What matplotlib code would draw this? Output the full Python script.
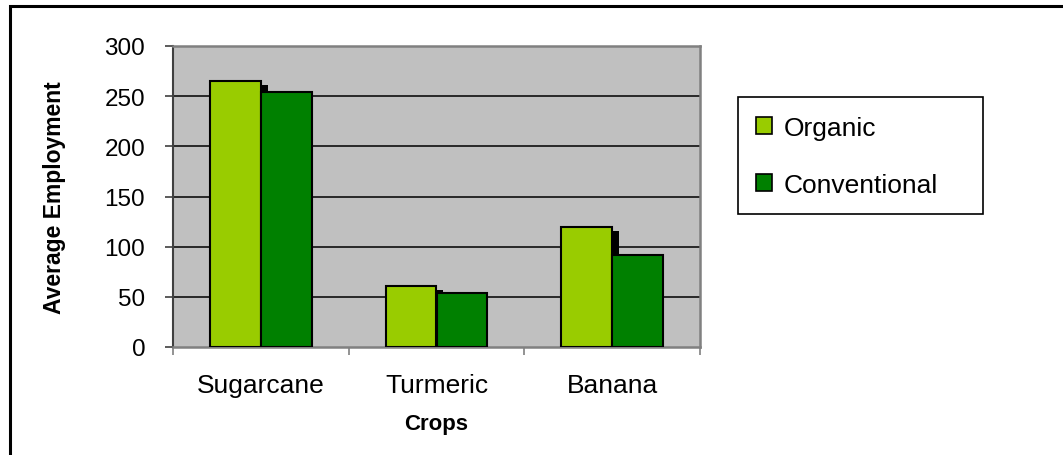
import matplotlib.pyplot as plt
import matplotlib.patheffects as pe
from matplotlib.patches import Rectangle, Patch
from matplotlib.transforms import Bbox
import numpy as np

# ---------------------------------------------
# Data
# ---------------------------------------------
crops = ["Sugarcane", "Turmeric", "Banana"]
organic = [265, 61, 120]
conventional = [254, 54, 92]
series_names = ["Organic", "Conventional"]
y_ticks = [0, 50, 100, 150, 200, 250, 300]

organic_color = "#99CC00"
conventional_color = "#008000"
plot_bg = "#C0C0C0"

plt.rcParams["font.family"] = ["Liberation Sans", "DejaVu Sans"]

W, H = 1063, 456
fig = plt.figure(figsize=(W / 100, H / 100), dpi=100)
fig.patch.set_facecolor("white")

# chart frame (runs past the right and bottom edges)
fig.patches.append(Rectangle((10 / W, -0.2), 1.2, 1 - 7 / H + 0.2,
                             transform=fig.transFigure, fill=False,
                             edgecolor="black", linewidth=2.2, zorder=0))

ax = fig.add_axes([173 / W, 1 - 348 / H, (700 - 173) / W, (348 - 47) / H])
ax.set_facecolor(plot_bg)

# ---------------------------------------------
# Bars
# ---------------------------------------------
x = np.arange(len(crops))
w = 0.29
shadow = [pe.SimplePatchShadow(offset=(5, -3), shadow_rgbFace="black", alpha=1.0),
          pe.Normal()]
b1 = ax.bar(x - w / 2, organic, w, color=organic_color, edgecolor="black",
            linewidth=1.5, zorder=3)
for bar in b1:
    bar.set_path_effects(shadow)
b2 = ax.bar(x + w / 2, conventional, w, color=conventional_color,
            edgecolor="black", linewidth=1.5, zorder=4)

# ---------------------------------------------
# Axes styling
# ---------------------------------------------
ax.set_xlim(-0.5, len(crops) - 0.5)
ax.set_ylim(0, 300)
ax.set_yticks(y_ticks)
ax.set_yticklabels([str(v) for v in y_ticks], fontsize=17.5)
for v in y_ticks[1:-1]:
    ax.axhline(v, color="black", linewidth=1.1, zorder=1)

ax.set_xticks(np.arange(len(crops) + 1) - 0.5)
ax.set_xticklabels([])
ax.set_xticks(x, minor=True)
ax.set_xticklabels(crops, minor=True, fontsize=19)
ax.tick_params(axis="x", which="minor", length=0, pad=19)
ax.tick_params(axis="x", which="major", length=6, width=1.2, color="#808080")
ax.tick_params(axis="y", length=6, width=1.2, color="#404040", pad=14)

for side in ["top", "right", "bottom"]:
    ax.spines[side].set_color("#808080")
    ax.spines[side].set_linewidth(1.8)
ax.spines["left"].set_color("#404040")
ax.spines["left"].set_linewidth(1.5)

ax.set_xlabel("Crops", fontsize=16, fontweight="bold", labelpad=11)
ylab = ax.set_ylabel("Average Employment", fontsize=16.5, fontweight="bold",
                     labelpad=28)
ylab.set_clip_box(Bbox.from_extents(0, 0, W, H - 80))
ylab.set_clip_on(True)

# ---------------------------------------------
# Legend
# ---------------------------------------------
fig.patches.append(Rectangle((738 / W, 1 - 215 / H), (983 - 738) / W,
                             (215 - 98) / H, transform=fig.transFigure,
                             fill=False, edgecolor="black", linewidth=1.2))
handles = [Patch(facecolor=organic_color, edgecolor="black", linewidth=1.2),
           Patch(facecolor=conventional_color, edgecolor="black", linewidth=1.2)]
fig.legend(handles, series_names, loc="upper left",
           bbox_to_anchor=(745 / W, 1 - 106 / H), frameon=False,
           fontsize=19, handlelength=0.62, handleheight=0.62,
           handletextpad=0.45, labelspacing=1.25, borderaxespad=0)

fig.savefig("out.png", dpi=100)
